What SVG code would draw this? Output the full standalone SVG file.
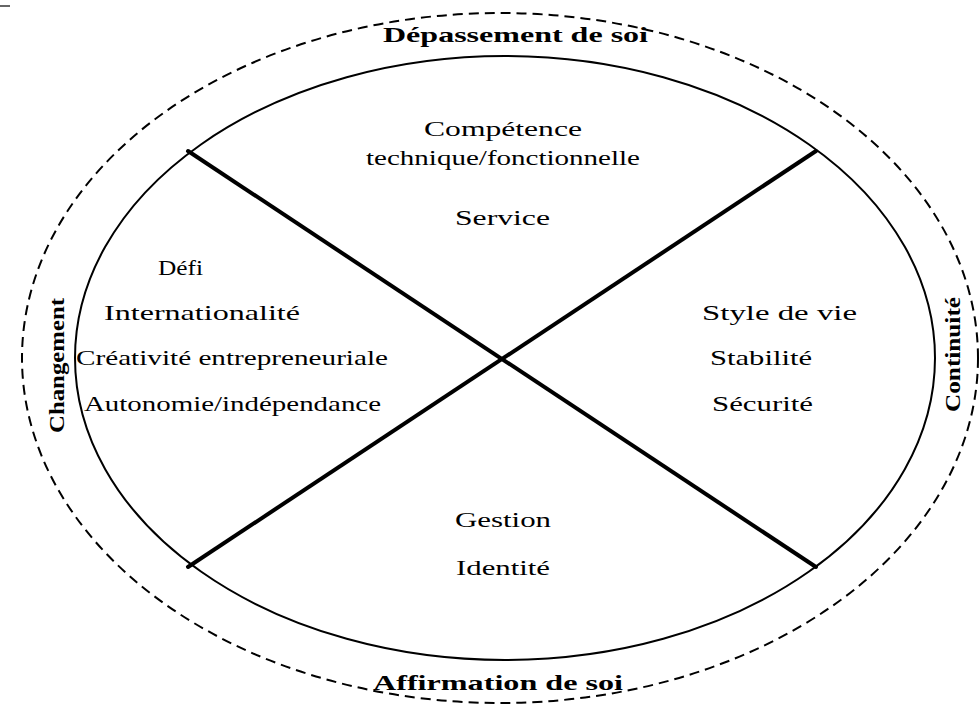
<svg xmlns="http://www.w3.org/2000/svg" width="979" height="707" viewBox="0 0 979 707">
<style>
.t{font-family:"Liberation Serif","Times New Roman",serif;font-size:22px;fill:#000}
.b{font-weight:bold}
</style>
<rect width="979" height="707" fill="#fff"/>
<line x1="0" y1="6" x2="10" y2="6" stroke="#666" stroke-width="2"/>
<g id="outer"><ellipse cx="500" cy="358" rx="478" ry="345" fill="none" stroke="#000" stroke-width="2" stroke-dasharray="10,6"/></g>
<g id="inner"><ellipse cx="505" cy="358" rx="430" ry="302" fill="none" stroke="#000" stroke-width="2"/></g>
<g id="connectors" stroke="#000" stroke-width="4" stroke-linecap="round">
<line x1="188" y1="151" x2="816" y2="567"/>
<line x1="816" y1="151" x2="188" y2="567"/>
</g>
<g id="top-label"><text class="t b" x="383" y="42" textLength="265" lengthAdjust="spacingAndGlyphs">Dépassement de soi</text></g>
<g id="bottom-label"><text class="t b" x="373" y="690" textLength="250" lengthAdjust="spacingAndGlyphs">Affirmation de soi</text></g>
<g id="left-label"><text class="t b" transform="translate(64,433) rotate(-90)" textLength="135" lengthAdjust="spacingAndGlyphs">Changement</text></g>
<g id="right-label"><text class="t b" transform="translate(960,412) rotate(-90)" textLength="115" lengthAdjust="spacingAndGlyphs">Continuité</text></g>
<g id="top-quadrant">
<text class="t" x="424" y="136" textLength="158" lengthAdjust="spacingAndGlyphs">Compétence</text>
<text class="t" x="366" y="165" textLength="274" lengthAdjust="spacingAndGlyphs">technique/fonctionnelle</text>
<text class="t" x="455" y="225" textLength="95" lengthAdjust="spacingAndGlyphs">Service</text>
</g>
<g id="left-quadrant">
<text class="t" x="158" y="275" textLength="45" lengthAdjust="spacingAndGlyphs">Défi</text>
<text class="t" x="104" y="320" textLength="196" lengthAdjust="spacingAndGlyphs">Internationalité</text>
<text class="t" x="76" y="365" textLength="312" lengthAdjust="spacingAndGlyphs">Créativité entrepreneuriale</text>
<text class="t" x="84" y="411" textLength="297" lengthAdjust="spacingAndGlyphs">Autonomie/indépendance</text>
</g>
<g id="right-quadrant">
<text class="t" x="702" y="320" textLength="155" lengthAdjust="spacingAndGlyphs">Style de vie</text>
<text class="t" x="710" y="365" textLength="102" lengthAdjust="spacingAndGlyphs">Stabilité</text>
<text class="t" x="712" y="411" textLength="101" lengthAdjust="spacingAndGlyphs">Sécurité</text>
</g>
<g id="bottom-quadrant">
<text class="t" x="455" y="527" textLength="96" lengthAdjust="spacingAndGlyphs">Gestion</text>
<text class="t" x="456" y="575" textLength="94" lengthAdjust="spacingAndGlyphs">Identité</text>
</g>
</svg>
